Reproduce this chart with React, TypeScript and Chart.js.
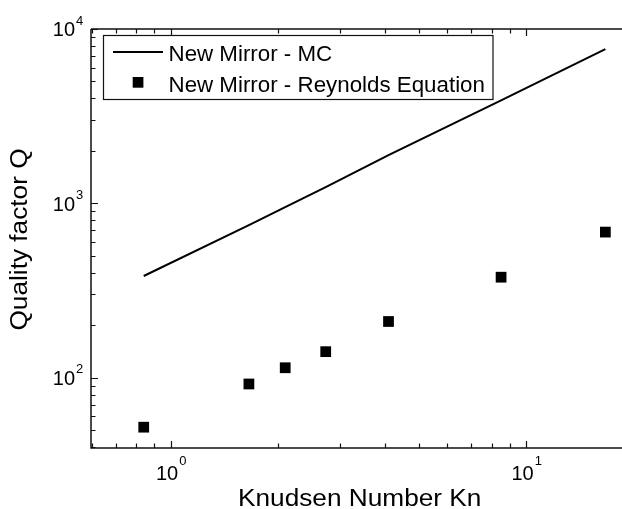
import React, { useEffect, useRef } from "react";
import { Chart, registerables } from "chart.js";

Chart.register(...registerables);

// ---- data ----
const knudsen = [0.84, 1.66, 2.1, 2.73, 4.1, 8.5, 16.7];
const qMC = [383, 750, 950, 1240, 1890, 3900, 7660];
const qReynolds = [52, 92, 114, 141, 210, 377, 684];

const seriesLabels = ["New Mirror - MC", "New Mirror - Reynolds Equation"];
const xMajorTicks = [1, 10];
const yMajorTicks = [100, 1000, 10000];
const xTitle = "Knudsen Number Kn";
const yTitle = "Quality factor Q";

const X_MIN = 0.597;
const X_MAX = 18.6;
const Y_MIN = 39.5;
const Y_MAX = 10000;

const FONT = '"Liberation Sans", Arial, Helvetica, sans-serif';

function minorTicks(min: number, max: number): number[] {
  const out: number[] = [];
  const d0 = Math.floor(Math.log10(min));
  const d1 = Math.ceil(Math.log10(max));
  for (let d = d0; d <= d1; d++) {
    for (let m = 2; m <= 9; m++) {
      const v = m * Math.pow(10, d);
      if (v >= min * 0.999 && v <= max) out.push(v);
    }
  }
  return out;
}

const axesPlugin = {
  id: "customAxes",
  afterDraw(chart: any) {
    const { ctx, chartArea: a, scales } = chart;
    const xs = scales.x;
    const ys = scales.y;
    ctx.save();

    // axis lines (left, bottom, top; right edge is cropped)
    ctx.strokeStyle = "#111";
    ctx.lineWidth = 1.5;
    ctx.beginPath();
    ctx.moveTo(a.left, a.top);
    ctx.lineTo(a.left, a.bottom);
    ctx.lineTo(a.right, a.bottom);
    ctx.moveTo(a.left, a.top);
    ctx.lineTo(a.right, a.top);
    ctx.stroke();

    // ticks (inward)
    ctx.lineWidth = 1.2;
    ctx.beginPath();
    const xTicks = [
      ...xMajorTicks.map((v) => ({ v, len: 7 })),
      ...minorTicks(X_MIN, X_MAX).map((v) => ({ v, len: 4.5 })),
    ];
    xTicks.forEach(({ v, len }) => {
      const px = Math.round(xs.getPixelForValue(v)) + 0.5;
      if (px < a.left || px > a.right) return;
      ctx.moveTo(px, a.bottom);
      ctx.lineTo(px, a.bottom - len);
      ctx.moveTo(px, a.top);
      ctx.lineTo(px, a.top + len);
    });
    const yTicks = [
      ...yMajorTicks.map((v) => ({ v, len: 7 })),
      ...minorTicks(Y_MIN, Y_MAX).map((v) => ({ v, len: 4.5 })),
    ];
    yTicks.forEach(({ v, len }) => {
      const py = Math.round(ys.getPixelForValue(v)) + 0.5;
      if (py < a.top - 1 || py > a.bottom + 1) return;
      ctx.moveTo(a.left, py);
      ctx.lineTo(a.left + len, py);
    });
    ctx.stroke();

    // tick labels 10^n
    ctx.fillStyle = "#000";
    ctx.textBaseline = "alphabetic";
    xMajorTicks.forEach((v) => {
      const px = xs.getPixelForValue(v);
      const exp = String(Math.round(Math.log10(v)));
      ctx.font = `20px ${FONT}`;
      ctx.textAlign = "right";
      ctx.fillText("10", px + 7.5, 480);
      ctx.font = `13px ${FONT}`;
      ctx.textAlign = "left";
      ctx.fillText(exp, px + 8.5, 465);
    });
    yMajorTicks.forEach((v) => {
      const py = ys.getPixelForValue(v);
      const exp = String(Math.round(Math.log10(v)));
      ctx.font = `20px ${FONT}`;
      ctx.textAlign = "right";
      ctx.fillText("10", 75, py + 7.3);
      ctx.font = `13px ${FONT}`;
      ctx.textAlign = "left";
      ctx.fillText(exp, 76, py - 4.4);
    });

    // axis titles
    ctx.font = `23px ${FONT}`;
    ctx.textAlign = "center";
    ctx.save();
    ctx.translate(359.7, 506);
    ctx.scale(1.14, 1);
    ctx.fillText(xTitle, 0, 0);
    ctx.restore();
    ctx.save();
    ctx.translate(27, (a.top + a.bottom) / 2 + 1);
    ctx.rotate(-Math.PI / 2);
    ctx.scale(1.14, 1);
    ctx.fillText(yTitle, 0, 0);
    ctx.restore();

    // legend
    const labels = chart.data.datasets.map((d: any) => d.label);
    ctx.fillStyle = "#fff";
    ctx.fillRect(103.5, 35.5, 389.5, 64);
    ctx.strokeStyle = "#111";
    ctx.lineWidth = 1.2;
    ctx.strokeRect(103.5, 35.5, 389.5, 64);
    ctx.strokeStyle = "#000";
    ctx.lineWidth = 2;
    ctx.beginPath();
    ctx.moveTo(113, 52);
    ctx.lineTo(163, 52);
    ctx.stroke();
    ctx.fillStyle = "#000";
    ctx.fillRect(132.7, 77, 10.7, 10.7);
    ctx.font = `22px ${FONT}`;
    ctx.textAlign = "left";
    ctx.save();
    ctx.translate(168.5, 60.5);
    ctx.scale(1.015, 1);
    ctx.fillText(labels[0], 0, 0);
    ctx.restore();
    ctx.save();
    ctx.translate(168.5, 91.5);
    ctx.scale(1.015, 1);
    ctx.fillText(labels[1], 0, 0);
    ctx.restore();

    ctx.restore();
  },
};

export default function App() {
  const canvasRef = useRef<HTMLCanvasElement | null>(null);

  useEffect(() => {
    if (!canvasRef.current) return;
    const chart = new Chart(canvasRef.current, {
      type: "scatter",
      data: {
        datasets: [
          {
            label: seriesLabels[0],
            data: knudsen.map((x, i) => ({ x, y: qMC[i] })),
            showLine: true,
            borderColor: "#000",
            borderWidth: 2,
            pointRadius: 0,
            tension: 0,
          },
          {
            label: seriesLabels[1],
            data: knudsen.map((x, i) => ({ x, y: qReynolds[i] })),
            showLine: false,
            pointStyle: "rect",
            pointRadius: 7.6,
            pointHoverRadius: 7.6,
            backgroundColor: "#000",
            borderWidth: 0,
          },
        ],
      },
      options: {
        responsive: false,
        animation: false,
        devicePixelRatio: 1,
        layout: {
          autoPadding: false,
          padding: { top: 29, left: 0, right: 0, bottom: 0 },
        },
        plugins: {
          legend: { display: false },
          tooltip: { enabled: false },
        },
        scales: {
          x: {
            type: "logarithmic",
            min: X_MIN,
            max: X_MAX,
            ticks: { display: false },
            grid: { display: false },
            border: { display: false },
            afterFit: (s: any) => {
              s.height = 61;
            },
          },
          y: {
            type: "logarithmic",
            min: Y_MIN,
            max: Y_MAX,
            ticks: { display: false },
            grid: { display: false },
            border: { display: false },
            afterFit: (s: any) => {
              s.width = 91;
            },
          },
        },
      },
      plugins: [axesPlugin],
    });
    return () => chart.destroy();
  }, []);

  return (
    <div
      style={{
        position: "fixed",
        left: 0,
        top: 0,
        width: 622,
        height: 509,
        background: "#fff",
      }}
    >
      <canvas
        ref={canvasRef}
        width={622}
        height={509}
        style={{ display: "block", width: 622, height: 509 }}
      />
    </div>
  );
}
